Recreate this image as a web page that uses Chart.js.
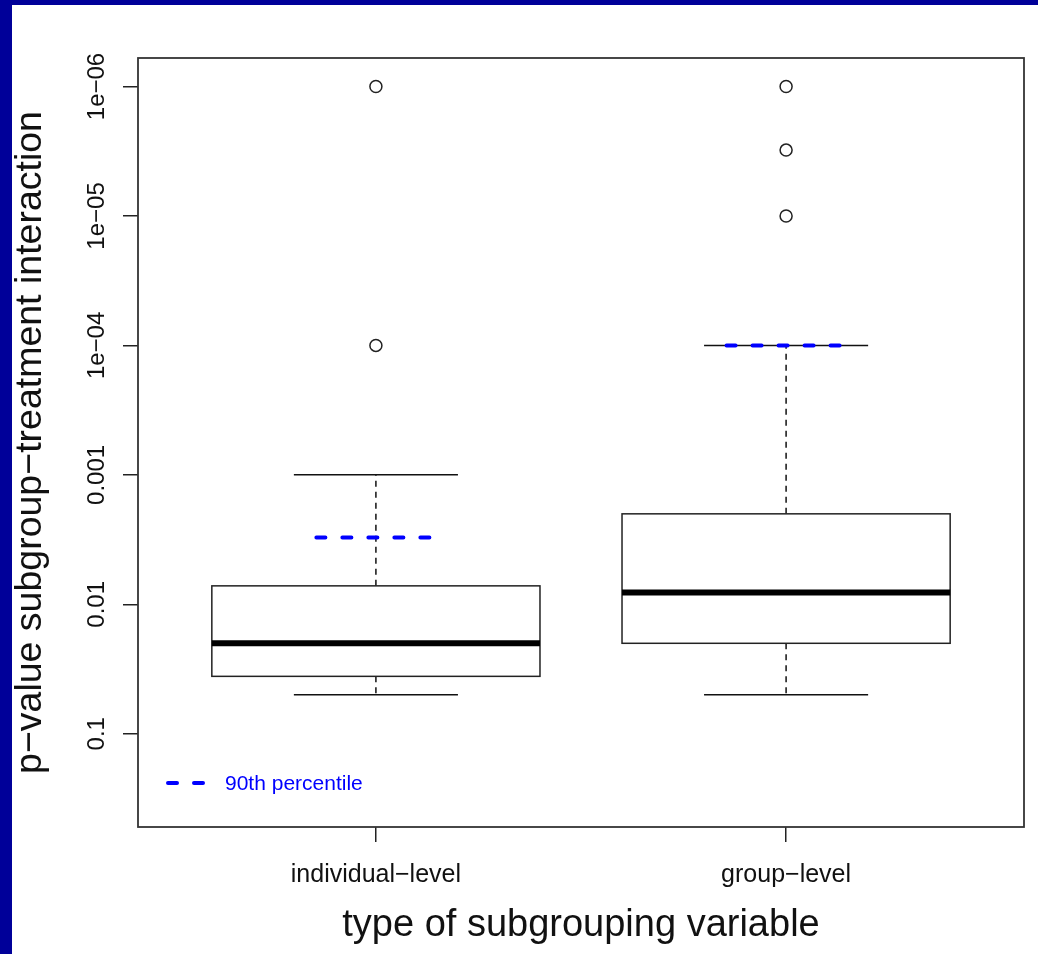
<!DOCTYPE html>
<html>
<head>
<meta charset="utf-8">
<script src="https://cdn.jsdelivr.net/npm/chart.js@4"></script>
<style>
  html, body { margin: 0; padding: 0; background: #fff; }
  canvas { display: block; }
</style>
</head>
<body>
<canvas id="chart" width="1038" height="954"></canvas>
<script>
// categories and box statistics (p-values, y axis is log and reversed)
const groups = ["individual\u2212level", "group\u2212level"];
const whiskerLow = [0.05, 0.05];
const q1 = [0.036, 0.02];
const medians = [0.02, 0.0081];
const q3 = [0.0072, 0.002];
const whiskerHigh = [0.001, 0.0001];
const pct90 = [0.00305, 0.0001];
const outliersIndividual = [0.0001, 0.000001];
const outliersGroup = [0.00001, 0.0000031, 0.000001];

const yTickValues = [1e-6, 1e-5, 1e-4, 1e-3, 1e-2, 1e-1];
const yTickLabels = ["1e\u221206", "1e\u221205", "1e\u221204", "0.001", "0.01", "0.1"];
const yMin = Math.pow(10, -6.22);
const yMax = Math.pow(10, -0.28);

const xTitle = "type of subgrouping variable";
const yTitle = "p\u2212value subgroup\u2212treatment interaction";
const legendLabel = "90th percentile";

const FONT = "'Liberation Sans', Arial, Helvetica, sans-serif";

const outlierPoints = [];
outliersIndividual.forEach(v => outlierPoints.push({ x: 1, y: v }));
outliersGroup.forEach(v => outlierPoints.push({ x: 2, y: v }));

const framePlugin = {
  id: "frame",
  beforeDraw(chart) {
    const ctx = chart.ctx;
    ctx.save();
    ctx.fillStyle = "#fff";
    ctx.fillRect(0, 0, chart.width, chart.height);
    ctx.fillStyle = "#000099";
    ctx.fillRect(0, 0, 12, chart.height);
    ctx.fillRect(0, 0, chart.width, 5);
    ctx.restore();
  }
};

const boxPlugin = {
  id: "boxes",
  beforeDatasetsDraw(chart) {
    const ctx = chart.ctx;
    const xs = chart.scales.x, ys = chart.scales.y;
    const unit = xs.getPixelForValue(1) - xs.getPixelForValue(0);
    ctx.save();
    groups.forEach((g, i) => {
      const cx = xs.getPixelForValue(i + 1);
      const yLo = ys.getPixelForValue(whiskerLow[i]);
      const yQ1 = ys.getPixelForValue(q1[i]);
      const yMed = ys.getPixelForValue(medians[i]);
      const yQ3 = ys.getPixelForValue(q3[i]);
      const yHi = ys.getPixelForValue(whiskerHigh[i]);
      const half = 0.4 * unit, cap = 0.2 * unit;

      // whiskers
      ctx.strokeStyle = "#111";
      ctx.lineWidth = 1.5;
      ctx.setLineDash([6, 5]);
      ctx.beginPath();
      ctx.moveTo(cx, yQ1); ctx.lineTo(cx, yLo);
      ctx.moveTo(cx, yQ3); ctx.lineTo(cx, yHi);
      ctx.stroke();
      ctx.setLineDash([]);
      ctx.beginPath();
      ctx.moveTo(cx - cap, yLo); ctx.lineTo(cx + cap, yLo);
      ctx.moveTo(cx - cap, yHi); ctx.lineTo(cx + cap, yHi);
      ctx.stroke();

      // box
      ctx.fillStyle = "#fff";
      ctx.fillRect(cx - half, yQ3, 2 * half, yQ1 - yQ3);
      ctx.strokeStyle = "#222";
      ctx.strokeRect(cx - half, yQ3, 2 * half, yQ1 - yQ3);

      // median
      ctx.strokeStyle = "#000";
      ctx.lineWidth = 6;
      ctx.lineCap = "butt";
      ctx.beginPath();
      ctx.moveTo(cx - half, yMed); ctx.lineTo(cx + half, yMed);
      ctx.stroke();

      // 90th percentile
      const y90 = ys.getPixelForValue(pct90[i]);
      ctx.strokeStyle = "#0000ff";
      ctx.lineWidth = 4;
      ctx.lineCap = "round";
      ctx.setLineDash([9, 17]);
      ctx.beginPath();
      ctx.moveTo(cx - 0.15 * unit + 2, y90); ctx.lineTo(cx + 0.15 * unit, y90);
      ctx.stroke();
      ctx.setLineDash([]);
      ctx.lineCap = "butt";
    });
    ctx.restore();
  },
  afterDraw(chart) {
    const ctx = chart.ctx;
    const xs = chart.scales.x, ys = chart.scales.y;
    const a = chart.chartArea;
    ctx.save();
    // plot frame
    ctx.strokeStyle = "#333";
    ctx.lineWidth = 1.8;
    ctx.strokeRect(a.left, a.top, a.right - a.left, a.bottom - a.top);

    // y tick labels (rotated, as in R)
    ctx.fillStyle = "#111";
    ctx.font = "24px " + FONT;
    ctx.textAlign = "center";
    ctx.textBaseline = "alphabetic";
    yTickValues.forEach((v, i) => {
      ctx.save();
      ctx.translate(104, ys.getPixelForValue(v));
      ctx.rotate(-Math.PI / 2);
      ctx.fillText(yTickLabels[i], 0, 0);
      ctx.restore();
    });
    // x tick labels
    ctx.font = "25px " + FONT;
    groups.forEach((g, i) => {
      ctx.fillText(g, xs.getPixelForValue(i + 1), 882);
    });

    // axis titles
    ctx.font = "38px " + FONT;
    ctx.fillText(xTitle, (a.left + a.right) / 2, 936);
    ctx.font = "37.5px " + FONT;
    ctx.save();
    ctx.translate(41, (a.top + a.bottom) / 2);
    ctx.rotate(-Math.PI / 2);
    ctx.fillText(yTitle, 0, 0);
    ctx.restore();

    // legend
    ctx.strokeStyle = "#0000ff";
    ctx.lineWidth = 4;
    ctx.lineCap = "round";
    ctx.setLineDash([9, 17]);
    ctx.beginPath();
    ctx.moveTo(168, 783); ctx.lineTo(206, 783);
    ctx.stroke();
    ctx.setLineDash([]);
    ctx.fillStyle = "#0000ff";
    ctx.font = "21px " + FONT;
    ctx.textAlign = "left";
    ctx.textBaseline = "middle";
    ctx.fillText(legendLabel, 225, 784);
    ctx.restore();
  }
};

new Chart(document.getElementById("chart"), {
  type: "scatter",
  data: {
    datasets: [{
      label: "outliers",
      data: outlierPoints,
      pointRadius: 6,
      pointHoverRadius: 6,
      backgroundColor: "rgba(255,255,255,0)",
      borderColor: "#222",
      borderWidth: 1.5
    }]
  },
  options: {
    responsive: false,
    animation: false,
    devicePixelRatio: 1,
    layout: { padding: { left: 0, top: 58, right: 14, bottom: 0 } },
    plugins: { legend: { display: false }, tooltip: { enabled: false } },
    scales: {
      x: {
        type: "linear",
        min: 0.42,
        max: 2.58,
        afterBuildTicks: s => { s.ticks = groups.map((g, i) => ({ value: i + 1 })); },
        afterFit: s => { s.height = 127; },
        ticks: { display: false },
        border: { display: false },
        grid: { drawOnChartArea: false, drawTicks: true, tickLength: 15, color: "#222", lineWidth: 1.5 }
      },
      y: {
        type: "logarithmic",
        reverse: true,
        min: yMin,
        max: yMax,
        afterBuildTicks: s => { s.ticks = yTickValues.map(v => ({ value: v })); },
        afterFit: s => { s.width = 138; },
        ticks: { display: false },
        border: { display: false },
        grid: { drawOnChartArea: false, drawTicks: true, tickLength: 15, color: "#222", lineWidth: 1.5 }
      }
    }
  },
  plugins: [framePlugin, boxPlugin]
});
</script>
</body>
</html>
